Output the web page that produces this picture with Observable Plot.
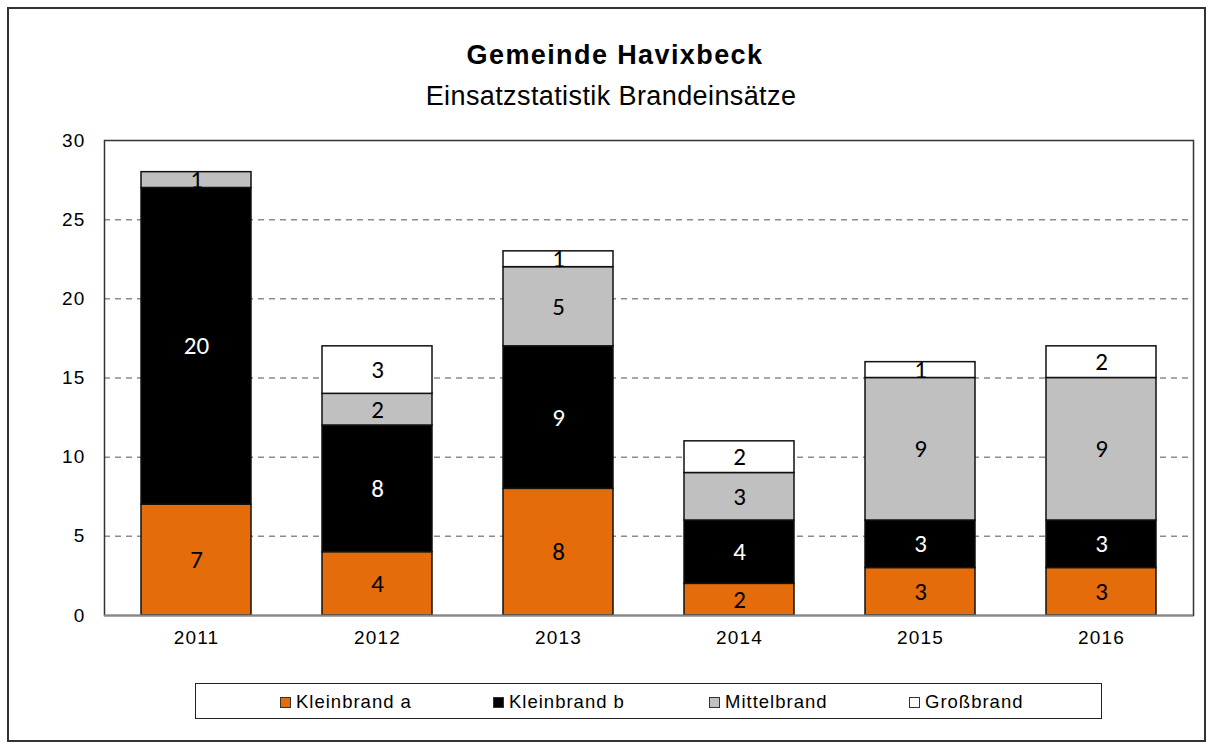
<!DOCTYPE html>
<html><head><meta charset="utf-8">
<script src="https://cdn.jsdelivr.net/npm/d3@7"></script>
<script src="https://cdn.jsdelivr.net/npm/@observablehq/plot@0.6"></script>
<style>
body{margin:0;background:#fff;}
#wrap{position:relative;width:1212px;height:749px;overflow:hidden;font-family:"Liberation Sans",Arial,sans-serif;background:#fff;}
#border{position:absolute;left:7px;top:7px;width:1199px;height:735px;border:2px solid #333;box-sizing:border-box;}
.t{position:absolute;left:9px;width:1212px;text-align:center;line-height:34px;color:#000;white-space:nowrap;}
#title{top:38px;font-size:27px;font-weight:bold;letter-spacing:1.4px;}
#subtitle{top:79px;font-size:27px;letter-spacing:0.4px;left:5px;}
#chart{position:absolute;left:0;top:120px;}
#legend{position:absolute;left:195px;top:683px;width:907px;height:36px;border:1.5px solid #222;box-sizing:border-box;}
.li{position:absolute;top:1px;height:33px;line-height:33px;font-size:18.5px;letter-spacing:1px;white-space:nowrap;}
.sw{display:inline-block;width:9px;height:9px;border:1px solid #333;margin-right:5px;vertical-align:middle;position:relative;top:-1px;}
</style></head>
<body>
<div id="wrap">
  <div id="border"></div>
  <div id="title" class="t">Gemeinde Havixbeck</div>
  <div id="subtitle" class="t">Einsatzstatistik Brandeinsätze</div>
  <div id="chart"></div>
  <div id="legend"></div>
</div>
<script>
const years = ["2011", "2012", "2013", "2014", "2015", "2016"];
const seriesNames = ["Kleinbrand a", "Kleinbrand b", "Mittelbrand", "Großbrand"];
const kleinbrandA = [7, 4, 8, 2, 3, 3];
const kleinbrandB = [20, 8, 9, 4, 3, 3];
const mittelbrand = [1, 2, 5, 3, 9, 9];
const grossbrand = [0, 3, 1, 2, 1, 2];
const seriesColors = ["#E46C0A", "#000000", "#C0C0C0", "#FFFFFF"];
const yTicks = [0, 5, 10, 15, 20, 25, 30];
const gridTicks = [5, 10, 15, 20, 25];

const seriesValues = [kleinbrandA, kleinbrandB, mittelbrand, grossbrand];
const data = [];
seriesNames.forEach((s, i) => {
  years.forEach((y, j) => data.push({year: y, series: s, value: seriesValues[i][j]}));
});
const nonZero = data.filter(d => d.value > 0);
const labelFont = "Carlito, Lato, 'Open Sans', sans-serif";

const plot = Plot.plot({
  width: 1212,
  height: 540,
  marginTop: 20,
  marginBottom: 45,
  marginLeft: 104,
  marginRight: 19,
  style: {fontFamily: "'Liberation Sans', Arial, sans-serif", background: "transparent"},
  x: {type: "band", domain: years, paddingInner: 0.39, paddingOuter: 0.195, label: null},
  y: {domain: [0, 30], label: null},
  color: {domain: seriesNames, range: seriesColors},
  marks: [
    Plot.ruleY(gridTicks, {stroke: "#8c8c8c", strokeWidth: 1.5, strokeDasharray: "6,5"}),
    Plot.frame({stroke: "#333", strokeWidth: 1.5}),
    Plot.barY(nonZero, Plot.stackY({x: "year", y: "value", fill: "series", z: "series", stroke: "#111", strokeWidth: 1.5})),
    Plot.text(data, Plot.stackY({x: "year", y: "value", z: "series",
      text: d => (d.series !== "Kleinbrand b" && d.value > 0) ? String(d.value) : "",
      fill: "black", fontSize: 25, fontFamily: labelFont})),
    Plot.text(data, Plot.stackY({x: "year", y: "value", z: "series",
      text: d => (d.series === "Kleinbrand b" && d.value > 0) ? String(d.value) : "",
      fill: "white", fontSize: 25, fontFamily: labelFont})),
    Plot.ruleY([0], {stroke: "#888", strokeWidth: 2}),
    Plot.axisY({ticks: yTicks, tickSize: 0, tickPadding: 19, fontSize: 19, line: true, stroke: "#888", strokeWidth: 2, fill: "black", label: null}),
    Plot.axisX({tickSize: 0, tickPadding: 15, fontSize: 19, fill: "black", label: null})
  ]
});
plot.querySelectorAll("g[aria-label^='y-axis'] text, g[aria-label^='x-axis'] text").forEach(t => { t.style.letterSpacing = "1.2px"; });
document.getElementById("chart").appendChild(plot);

const legendPos = [280, 493, 709, 909];
const legend = document.getElementById("legend");
seriesNames.forEach((s, i) => {
  const item = document.createElement("div");
  item.className = "li";
  item.style.left = (legendPos[i] - 196) + "px";
  const sw = document.createElement("span");
  sw.className = "sw";
  sw.style.background = seriesColors[i];
  item.appendChild(sw);
  item.appendChild(document.createTextNode(s));
  legend.appendChild(item);
});
</script>
</body></html>
